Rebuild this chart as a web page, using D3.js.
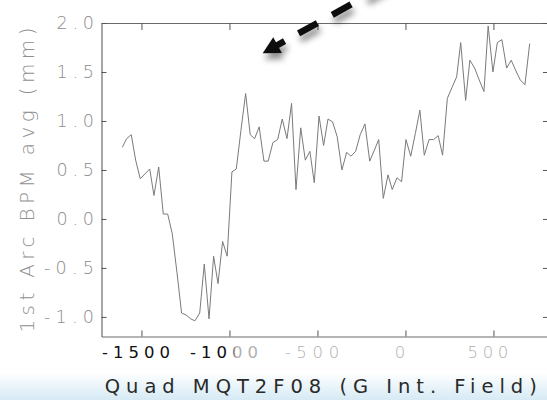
<!DOCTYPE html>
<meta charset="utf-8">
<style>
  body { margin: 0; background: #fff; }
  svg { display: block; }
</style>
<script src="https://d3js.org/d3.v7.min.js"></script>
<div id="my_dataviz"></div>
<script>

// values
var fieldValues = [-1609,-1584,-1558,-1533,-1507,-1480,-1453,-1429,-1402,-1376,
  -1351,-1325,-1298,-1272,-1247,-1220,-1196,-1169,-1143,-1116,
  -1090,-1065,-1039,-1013,-986,-961,-935,-908,-882,-857,
  -831,-804,-780,-753,-726,-700,-673,-647,-622,-595,
  -569,-543,-518,-491,-465,-440,-414,-388,-361,-334,
  -310,-283,-257,-230,-203,-177,-152,-126,-99,-75,
  -48,-22,3,30,56,82,107,134,160,186,
  211,238,264,291,314,342,366,393,419,446,
  470,497,522,548,575,601,628,652,679,706];
var bpmValues = [0.73,0.82,0.86,0.60,0.41,0.46,0.51,0.24,0.53,0.05,
  0.05,-0.15,-0.55,-0.96,-0.98,-1.02,-1.04,-0.96,-0.46,-1.02,
  -0.38,-0.66,-0.23,-0.38,0.48,0.51,0.90,1.28,0.86,0.82,
  0.94,0.59,0.59,0.78,0.81,1.02,0.82,1.18,0.30,0.93,
  0.60,0.69,0.37,1.05,0.75,1.02,0.99,0.84,0.50,0.68,
  0.64,0.69,0.86,0.97,0.59,0.70,0.81,0.21,0.45,0.30,
  0.42,0.38,0.81,0.64,0.87,1.11,0.65,0.81,0.81,0.85,
  0.65,1.23,1.34,1.45,1.80,1.21,1.62,1.54,1.42,1.30,
  1.97,1.50,1.80,1.83,1.54,1.62,1.51,1.42,1.37,1.79];

var xTicks = [-1500, -1000, -500, 0, 500];
var xTickLabels = ["-1500", "-1000", "-500", "0", "500"];
var yTicks = [-1.0, -0.5, 0.0, 0.5, 1.0, 1.5, 2.0];
var yTickLabels = ["-1.0", "-0.5", "0.0", "0.5", "1.0", "1.5", "2.0"];

var W = 547, H = 400;
var plotLeft = 101.5, plotRight = 548, plotTop = 23, plotBottom = 336.5;

var svg = d3.select("#my_dataviz")
  .append("svg")
  .attr("width", W)
  .attr("height", H);

var defs = svg.append("defs");

// pale blue band of the slide at the bottom
var bg = defs.append("linearGradient")
  .attr("id", "bgband").attr("x1", 0).attr("y1", 0).attr("x2", 0).attr("y2", 1);
bg.append("stop").attr("offset", "0%").attr("stop-color", "#ffffff");
bg.append("stop").attr("offset", "100%").attr("stop-color", "#d6eaf5");

svg.append("rect")
  .attr("x", 0).attr("y", 372).attr("width", W).attr("height", H - 372)
  .attr("fill", "url(#bgband)");

// the x tick labels fade from dark to light inside "-1000"
var dark = "#111", light = "#b0b0b0";
var xl = defs.append("linearGradient")
  .attr("id", "xlab").attr("x1", 0).attr("y1", 0).attr("x2", 1).attr("y2", 0);
xl.append("stop").attr("offset", "58%").attr("stop-color", dark);
xl.append("stop").attr("offset", "68%").attr("stop-color", light);

var shadow = defs.append("filter").attr("id", "shadow")
  .attr("x", "-50%").attr("y", "-50%").attr("width", "200%").attr("height", "200%");
shadow.append("feDropShadow")
  .attr("dx", 2).attr("dy", 6).attr("stdDeviation", 3)
  .attr("flood-color", "#000").attr("flood-opacity", 0.45);

var x = d3.scaleLinear().domain([-1727, 810]).range([plotLeft, plotRight]);
var y = d3.scaleLinear().domain([-1.2, 2.0]).range([plotBottom, plotTop]);

var font = "'DejaVu Sans', sans-serif";

// axes (ticks point inward, IDL style)
var gB = svg.append("g").attr("transform", "translate(0," + plotBottom + ")")
  .call(d3.axisBottom(x).tickValues(xTicks).tickSize(-6).tickSizeOuter(0)
    .tickPadding(10).tickFormat(function(d, i) { return xTickLabels[i]; }));
var gT = svg.append("g").attr("transform", "translate(0," + plotTop + ")")
  .call(d3.axisTop(x).tickValues(xTicks).tickSize(-7).tickSizeOuter(0).tickFormat(""));
var gL = svg.append("g").attr("transform", "translate(" + plotLeft + ",0)")
  .call(d3.axisLeft(y).tickValues(yTicks).tickSize(-5).tickSizeOuter(0)
    .tickPadding(7.5).tickFormat(function(d, i) { return yTickLabels[i]; }));
var gR = svg.append("g").attr("transform", "translate(" + plotRight + ",0)")
  .call(d3.axisRight(y).tickValues(yTicks).tickSize(-5).tickSizeOuter(0).tickFormat(""));

[gB, gT, gL, gR].forEach(function(g) {
  g.select(".domain").attr("stroke", "#6a6a6a").attr("stroke-width", 1.2);
  g.selectAll(".tick line").attr("stroke", "#555").attr("stroke-width", 1);
});

gB.selectAll(".tick text")
  .attr("font-family", font)
  .attr("font-size", 16.5)
  .attr("dy", "0.68em")
  .attr("dx", -6)
  .attr("fill", function(d, i) { return i === 0 ? dark : i === 1 ? "url(#xlab)" : light; })
  .attr("font-weight", function(d, i) { return i < 2 ? 400 : 200; })
  .each(function(d, i) {
    var s = xTickLabels[i];
    if (s.length > 1) d3.select(this).attr("textLength", s.length * 13.6).attr("lengthAdjust", "spacing");
  });

gL.selectAll(".tick text")
  .attr("font-family", font)
  .attr("font-weight", 200)
  .attr("font-size", 17.5)
  .attr("dy", "0.3em")
  .attr("fill", "#8c8c8c")
  .each(function(d, i) {
    d3.select(this).attr("textLength", yTickLabels[i].length * 12.5).attr("lengthAdjust", "spacing");
  });

// data line
var pts = fieldValues.map(function(v, i) { return [v, bpmValues[i]]; });
svg.append("path")
  .datum(pts)
  .attr("fill", "none")
  .attr("stroke", "#7a7a7a")
  .attr("stroke-width", 1)
  .attr("d", d3.line()
    .x(function(d) { return x(d[0]); })
    .y(function(d) { return y(d[1]); }));

// axis titles
svg.append("text")
  .attr("x", (plotLeft + plotRight) / 2 - 4)
  .attr("y", 393)
  .attr("text-anchor", "middle")
  .attr("font-family", font)
  .attr("font-size", 19.5)
  .attr("fill", "#2a2a2a")
  .attr("textLength", 432)
  .attr("lengthAdjust", "spacing")
  .text("Quad MQT2F08 (G Int. Field)");

svg.append("text")
  .attr("transform", "translate(34,180) rotate(-90)")
  .attr("text-anchor", "middle")
  .attr("font-family", font)
  .attr("font-weight", 200)
  .attr("font-size", 20)
  .attr("fill", "#909090")
  .attr("textLength", 305)
  .attr("lengthAdjust", "spacing")
  .text("1st Arc BPM avg (mm)");

// dashed pointer arrow in the top of the plot
var arrow = svg.append("g").attr("filter", "url(#shadow)");
var ang = Math.atan2(-48.3, 87.3);
var tip = [262.7, 53.3];
var ux = Math.cos(ang), uy = Math.sin(ang);
var base = [tip[0] + ux * 14, tip[1] + uy * 14];
arrow.append("line")
  .attr("x1", base[0]).attr("y1", base[1])
  .attr("x2", base[0] + ux * 200).attr("y2", base[1] + uy * 200)
  .attr("stroke", "#111")
  .attr("stroke-width", 6.5)
  .attr("stroke-dasharray", "11 16 21.5 17 21.5 17 21.5 17 21.5 17");
arrow.append("path")
  .attr("d", "M" + tip[0] + "," + tip[1] +
    "L" + (tip[0] + ux * 17 - uy * 9) + "," + (tip[1] + uy * 17 + ux * 9) +
    "L" + (tip[0] + ux * 17 + uy * 9) + "," + (tip[1] + uy * 17 - ux * 9) + "Z")
  .attr("fill", "#111");

</script>
